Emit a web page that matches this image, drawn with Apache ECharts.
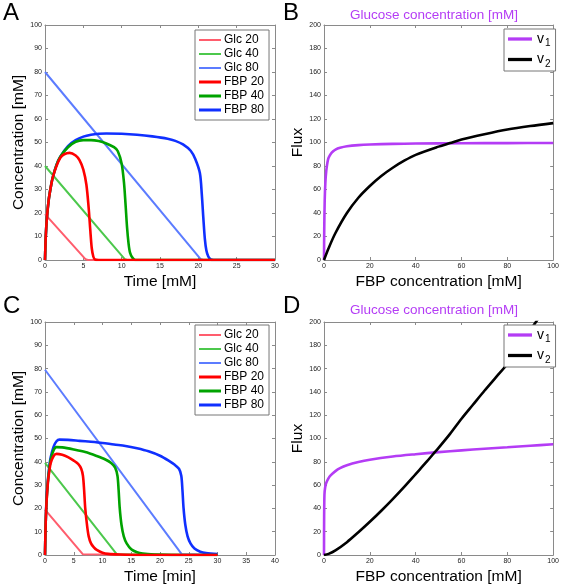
<!DOCTYPE html>
<html><head><meta charset="utf-8">
<script src="https://cdn.jsdelivr.net/npm/echarts@6/dist/echarts.min.js"></script>
<style>html,body{margin:0;padding:0;background:#fff}#c{width:562px;height:586px}</style>
</head><body><div id="c"></div>
<script>
// ---- Panel A (time, 0-30) ----
const glc20A = [[0,19.5],[0.2,18.8],[5.3,0.3],[5.6,0],[30,0]];
const glc40A = [[0,40],[0.2,39.3],[10.4,0.4],[10.7,0],[30,0]];
const glc80A = [[0,80],[0.2,79.2],[20.3,0.4],[20.6,0],[30,0]];
const fbp20A = [[0,0],[0.1,10],[0.25,18],[0.5,26],[0.75,31],[1,35],[1.5,40],[2,43.5],[2.5,45],[3.2,45.6],[4,44.5],[4.5,42.5],[5,38.5],[5.4,32],[5.7,22],[5.9,13],[6.1,5],[6.3,1.5],[6.5,0.3],[7,0],[30,0]];
const fbp40A = [[0,0],[0.1,10],[0.25,18],[0.5,26],[0.75,31],[1,35],[1.5,40.5],[2,44],[3,48],[4,50.3],[5,51],[6,51],[7,50.6],[8,49.6],[9,48],[9.5,46.3],[10,41],[10.3,33],[10.5,24],[10.7,14],[10.9,7],[11.1,3],[11.4,1],[11.8,0],[30,0]];
const fbp80A = [[0,0],[0.1,10],[0.25,18],[0.5,26],[0.75,31],[1,35],[1.5,40.5],[2,44],[3,48.5],[4,51],[5,52.5],[6,53.3],[7,53.7],[8,53.8],[10,53.7],[12,53.3],[14,52.6],[16,51.6],[17,50.7],[18,49.2],[19,46.5],[19.6,43],[20.2,37],[20.45,28],[20.65,18],[20.85,9],[21.05,4],[21.3,1.5],[21.6,0.3],[22,0],[30,0]];

// ---- Panel C (time, 0-40) ----
const glc20C = [[0,19.5],[0.2,18.8],[6.6,0.3],[6.8,0],[30,0]];
const glc40C = [[0,39.5],[0.2,38.8],[12.5,0.3],[12.7,0],[30,0]];
const glc80C = [[0,79.5],[0.2,79],[23.8,0.3],[24,0],[30,0]];
const fbp20C = [[0,0],[0.1,12],[0.25,22],[0.5,31],[0.75,36],[1,39.5],[1.5,42.5],[2,43.4],[3,43],[4,42],[5,40.5],[5.8,39],[6.3,37],[6.6,34],[6.8,28],[7,20],[7.3,13],[7.6,8],[8,5],[8.5,3.3],[9,2.2],[10,1],[11,0.5],[13,0.2],[16,0],[30,0]];
const fbp40C = [[0,0],[0.1,12],[0.25,22],[0.5,31.5],[0.75,37],[1,41],[1.5,45],[2,46.3],[3,46.2],[5,45.3],[7,44.2],[9,42.5],[10.5,41],[11.5,39.5],[12.2,37.5],[12.6,34],[12.8,28],[13,20],[13.3,13],[13.7,8],[14.2,5],[15,2.5],[16,1.2],[17,0.6],[19,0.2],[22,0],[30,0]];
const fbp80C = [[0,0],[0.1,12],[0.25,23],[0.5,32],[0.75,38],[1,42],[1.5,46.5],[2,48.8],[2.5,49.5],[4,49.4],[6,49],[8,48.6],[10,48.1],[12,47.4],[14,46.8],[16,45.8],[18,44.5],[20,42.6],[21.5,40.5],[22.5,38.8],[23.3,37],[23.7,34],[23.9,28],[24.1,20],[24.4,13],[24.8,8],[25.3,5],[26,2.8],[27,1.4],[28,0.8],[30,0.4]];

// ---- Panel B (flux vs FBP) ----
const v1B = [[0,0],[0.1,25],[0.3,50],[0.6,66],[1,76],[1.5,83],[2,87],[3,90.5],[4,92.5],[5,94],[7,95.5],[10,96.8],[15,97.8],[20,98.3],[30,98.8],[40,99.1],[60,99.4],[80,99.5],[100,99.6]];
const v2B = [[0,0],[2,10],[5,23],[10,40],[15,53],[20,63],[25,71.5],[30,78.5],[35,84.5],[40,89.5],[50,96.5],[55,99.5],[60,102.5],[70,107],[80,111],[90,114],[100,116.5]];

// ---- Panel D (flux vs FBP) ----
const v1D = [[0,0],[0.05,30],[0.2,52],[0.5,58],[1,62],[2,66],[3,68.5],[5,72],[7,74.5],[10,77],[15,79.8],[20,81.8],[30,84.5],[40,86.5],[50,88.3],[60,89.8],[70,91.2],[80,92.5],[90,93.8],[100,95]];
const v2D = [[0,0],[2,1],[5,4],[10,11],[15,19.5],[20,28.5],[25,38],[30,48],[35,58.5],[40,69.5],[45,80.5],[48,87.5],[50,92],[55,104],[60,117],[65,129],[70,141],[75,152.5],[80,164],[85,178],[90,193],[95,207]];

const concLegend = ['Glc 20','Glc 40','Glc 80','FBP 20','FBP 40','FBP 80'];
const fluxLegend = ['v1','v2'];

const FONT = '"Liberation Sans", Arial, sans-serif';
const grids = [
  {left:45, top:25, width:230, height:235},
  {left:324, top:25, width:230, height:235},
  {left:45, top:322, width:230, height:234},
  {left:324, top:322, width:230, height:234}
];
const axisCfg = [
  {xmax:30, xint:5, ymax:100, yint:10, xname:'Time [mM]', yname:'Concentration [mM]', ygap:17},
  {xmax:100, xint:20, ymax:200, yint:20, xname:'FBP concentration [mM]', yname:'Flux', ygap:18},
  {xmax:40, xint:5, ymax:100, yint:10, xname:'Time [min]', yname:'Concentration [mM]', ygap:17},
  {xmax:100, xint:20, ymax:200, yint:20, xname:'FBP concentration [mM]', yname:'Flux', ygap:18}
];
const lineC = '#8a8a8a';
const xAxis = [], yAxis = [];
axisCfg.forEach((a, i) => {
  const common = {
    axisLine:{show:true, onZero:false, lineStyle:{color:lineC, width:1}},
    axisTick:{show:true, inside:true, length:3, lineStyle:{color:lineC}},
    splitLine:{show:false}
  };
  xAxis.push(Object.assign({}, common, {type:'value', gridIndex:i, min:0, max:a.xmax, interval:a.xint, position:'bottom',
    axisLabel:{fontSize:7, color:'#222', margin:3, fontFamily:FONT},
    name:a.xname, nameLocation:'middle', nameGap:14, nameTextStyle:{fontSize:15.5, color:'#000', fontFamily:FONT}}));
  xAxis.push(Object.assign({}, common, {type:'value', gridIndex:i, min:0, max:a.xmax, interval:a.xint, position:'top', axisLabel:{show:false}}));
  yAxis.push(Object.assign({}, common, {type:'value', gridIndex:i, min:0, max:a.ymax, interval:a.yint, position:'left',
    axisLabel:{fontSize:7, color:'#222', margin:3, fontFamily:FONT},
    name:a.yname, nameLocation:'middle', nameGap:a.ygap, nameTextStyle:{fontSize:15.5, color:'#000', fontFamily:FONT}}));
  yAxis.push(Object.assign({}, common, {type:'value', gridIndex:i, min:0, max:a.ymax, interval:a.yint, position:'right', axisLabel:{show:false}}));
});

const COL = {glc20:'#ff5d6d', glc40:'#4cc84c', glc80:'#5c7cff', fbp20:'#ff0000', fbp40:'#00a300', fbp80:'#1030ff', v1:'#b43cf5', v2:'#000000'};
function ser(name, data, g, color, w, smooth) {
  return {type:'line', name, data, xAxisIndex:2*g, yAxisIndex:2*g, showSymbol:false, symbol:'none',
    smooth: smooth, lineStyle:{color, width:w}, itemStyle:{color}, clip:true, animation:false};
}
const series = [];
[[glc20A,glc40A,glc80A,fbp20A,fbp40A,fbp80A,0],[glc20C,glc40C,glc80C,fbp20C,fbp40C,fbp80C,2]].forEach(s => {
  const g = s[6];
  series.push(ser('Glc 20', s[0], g, COL.glc20, 2, false));
  series.push(ser('Glc 40', s[1], g, COL.glc40, 2, false));
  series.push(ser('Glc 80', s[2], g, COL.glc80, 2, false));
  series.push(ser('FBP 80', s[5], g, COL.fbp80, 2.6, 0.3));
  series.push(ser('FBP 40', s[4], g, COL.fbp40, 2.6, 0.3));
  series.push(ser('FBP 20', s[3], g, COL.fbp20, 2.6, 0.3));
});
series.push(ser('v1', v1B, 1, COL.v1, 2.6, 0.3));
series.push(ser('v2', v2B, 1, COL.v2, 2.6, 0.3));
series.push(ser('v1', v1D, 3, COL.v1, 2.6, 0.3));
series.push(ser('v2', v2D, 3, COL.v2, 2.6, 0.3));

const thin = 'path://M0,0h22v2h-22z', thick = 'path://M0,0h22v3h-22z';
function concLeg(left, top) {
  return {data:concLegend.map((n, k) => ({name:n, icon: k < 3 ? thin : thick})), orient:'vertical', left, top,
    itemWidth:22, itemHeight:6, itemGap:2, symbolKeepAspect:true,
    backgroundColor:'#fff', borderColor:'#777', borderWidth:1, borderRadius:0, padding:[4,5,4,4],
    selectedMode:false, textStyle:{fontSize:12, color:'#000', fontFamily:FONT, padding:[0,0,0,-2]}};
}
function fluxLeg(left, top) {
  return {data:fluxLegend.map(n => ({name:n, icon:thick})), orient:'vertical', left, top, itemWidth:24, itemHeight:6, itemGap:4,
    symbolKeepAspect:true,
    backgroundColor:'#fff', borderColor:'#777', borderWidth:1, borderRadius:0, padding:[3,5,2,4],
    selectedMode:false, formatter: n => n === 'v1' ? '{v|v}{s|1}' : '{v|v}{s|2}',
    textStyle:{color:'#000', fontFamily:FONT, rich:{v:{fontSize:14, fontFamily:FONT, color:'#000'}, s:{fontSize:10, fontFamily:FONT, color:'#000', padding:[9,0,0,1]}}}};
}

const letter = (t, x, y) => ({type:'text', left:x, top:y, z:100, style:{text:t, fontSize:24, fill:'#000', fontFamily:FONT}});
const ttl = (x, y) => ({type:'text', x, y, z:100, style:{text:'Glucose concentration [mM]', fontSize:13.5, fill:'#b43cf5', fontFamily:FONT, textAlign:'center', textVerticalAlign:'middle'}});

const chart = echarts.init(document.getElementById('c'), null, {renderer:'canvas'});
chart.setOption({
  backgroundColor:'#fff',
  animation:false,
  grid: grids,
  xAxis, yAxis, series,
  legend: [concLeg(195,30), fluxLeg(504,29), concLeg(195,325), fluxLeg(504,325)],
  graphic: [letter('A',3,1), letter('B',283,1), letter('C',3,294), letter('D',283,294), ttl(434,15), ttl(434,310)]
});
</script></body></html>
